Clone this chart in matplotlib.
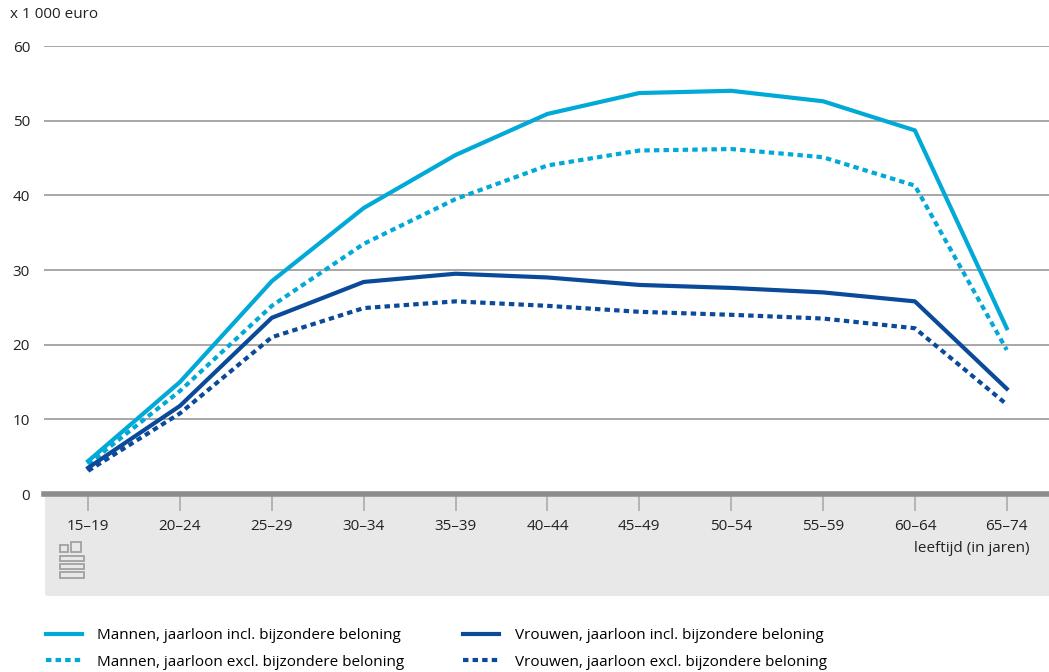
import matplotlib.pyplot as plt
from matplotlib.patches import FancyBboxPatch, Rectangle
import numpy as np

plt.rcParams['font.family'] = ['Open Sans', 'DejaVu Sans']

# data (x 1 000 euro)
leeftijd = ['15–19', '20–24', '25–29', '30–34', '35–39', '40–44',
            '45–49', '50–54', '55–59', '60–64', '65–74']
mannen_incl = [4.4, 15.0, 28.5, 38.3, 45.4, 50.9, 53.7, 54.0, 52.6, 48.7, 22.2]
mannen_excl = [4.0, 13.8, 25.2, 33.5, 39.5, 44.0, 46.0, 46.2, 45.1, 41.3, 19.3]
vrouwen_incl = [3.5, 11.8, 23.6, 28.4, 29.5, 29.0, 28.0, 27.6, 27.0, 25.8, 14.1]
vrouwen_excl = [3.1, 10.8, 21.0, 24.9, 25.8, 25.2, 24.4, 24.0, 23.5, 22.2, 12.0]
labels = ['Mannen, jaarloon incl. bijzondere beloning',
          'Mannen, jaarloon excl. bijzondere beloning',
          'Vrouwen, jaarloon incl. bijzondere beloning',
          'Vrouwen, jaarloon excl. bijzondere beloning']

licht = '#00a9d6'
donker = '#0b4a99'

W, H = 1049, 672
fig = plt.figure(figsize=(W / 100, H / 100), dpi=100)
ax = fig.add_axes([44 / W, (H - 494) / H, (W - 44) / W, 448 / H])

# grey band under the x axis
band = FancyBboxPatch((44 / W + 0.004, (H - 594) / H), (W - 44) / W, (594 - 494) / H - 0.003,
                      boxstyle='round,pad=0.003', transform=fig.transFigure,
                      facecolor='#e8e8e8', edgecolor='none', zorder=0)
fig.add_artist(band)

x = np.arange(len(leeftijd))
dot = (0, (1.3, 1.0))
ax.plot(x, mannen_incl, color=licht, lw=3, label=labels[0], zorder=3)
ax.plot(x, mannen_excl, color=licht, lw=3, ls=dot, dash_capstyle='butt', label=labels[1], zorder=3)
ax.plot(x, vrouwen_incl, color=donker, lw=3, label=labels[2], zorder=3)
ax.plot(x, vrouwen_excl, color=donker, lw=3, ls=dot, dash_capstyle='butt', label=labels[3], zorder=3)

ax.set_xlim(-0.48, 10.46)
ax.set_ylim(0, 60)
ax.set_yticks(range(0, 61, 10))
ax.yaxis.grid(True, color='#a0a0a0', lw=1.3)
ax.set_axisbelow(True)
for s in ['top', 'right', 'left']:
    ax.spines[s].set_visible(False)
ax.spines['bottom'].set_color('#8c8c8c')
ax.spines['bottom'].set_linewidth(4)
ax.tick_params(axis='y', length=0, labelsize=11, pad=10, colors='#222222')
ax.set_xticks(x)
ax.set_xticklabels(leeftijd)
ax.tick_params(axis='x', length=12, width=1.3, labelsize=11, pad=6)
ax.tick_params(axis='x', labelcolor='#222222', color='#b0b0b0')

fig.text(10 / W, 1 - 15 / H, 'x 1 000 euro', fontsize=11, va='center', color='#222222')
fig.text(1030 / W, 1 - 548 / H, 'leeftijd (in jaren)', fontsize=11, ha='right',
         va='center', color='#222222')

# simple cbs logo
logo = '#a0a0a0'
for (lx, ly, lw_, lh) in [(60, 545, 8, 7), (71, 542, 10, 10), (60, 556, 24, 5), (60, 564, 24, 5),
                          (60, 572, 24, 6)]:
    fig.add_artist(Rectangle((lx / W, 1 - (ly + lh) / H), lw_ / W, lh / H,
                             transform=fig.transFigure, fill=False, edgecolor=logo, lw=1.3))

fig.legend(loc='upper left', bbox_to_anchor=(40 / W, 1 - 622 / H), ncol=2,
           frameon=False, fontsize=11, handlelength=2.35, handletextpad=1.0,
           columnspacing=3.85, labelspacing=0.75, borderaxespad=0)

fig.savefig('out.png', dpi=100)
